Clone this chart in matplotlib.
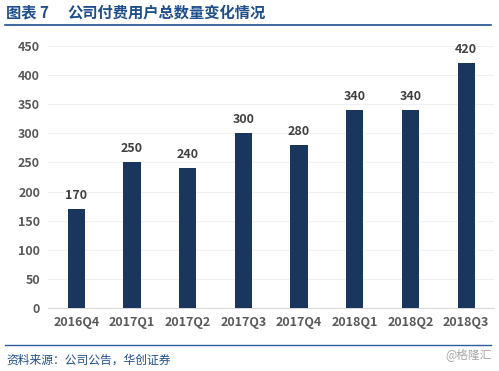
import matplotlib
matplotlib.use("Agg")
import matplotlib.pyplot as plt
from matplotlib.lines import Line2D

plt.rcParams['font.family'] = ['Noto Sans CJK SC', 'DejaVu Sans']

quarters = ['2016Q4', '2017Q1', '2017Q2', '2017Q3', '2017Q4', '2018Q1', '2018Q2', '2018Q3']
users = [170, 250, 240, 300, 280, 340, 340, 420]
y_ticks = [0, 50, 100, 150, 200, 250, 300, 350, 400, 450]

title_head = '图表 7'
title = '公司付费用户总数量变化情况'
source = '资料来源：公司公告，华创证券'
mark = '@格隆汇'

bar_color = '#1b365d'
blue = '#1f4e8c'
grey = '#595959'

fig = plt.figure(figsize=(4.99, 3.71), dpi=100)
ax = fig.add_axes([0.097, 0.170, 0.893, 0.706])

x = range(len(quarters))
bars = ax.bar(x, users, width=0.31, color=bar_color, zorder=3)
for xi, v in zip(x, users):
    ax.text(xi, v + 12, str(v), ha='center', va='bottom', fontsize=9,
            fontweight='bold', color='#404040')

ax.set_xlim(-0.5, len(quarters) - 0.5)
ax.set_ylim(0, 450)
ax.set_yticks(y_ticks)
ax.set_xticks(list(x))
ax.set_xticklabels(quarters)
ax.tick_params(length=0, labelsize=9, labelcolor=grey, pad=6)
for lab in ax.get_xticklabels() + ax.get_yticklabels():
    lab.set_fontweight('bold')
ax.yaxis.grid(True, color='#f0f0f0', linewidth=0.8, zorder=0)
for s in ['top', 'right', 'left']:
    ax.spines[s].set_visible(False)
ax.spines['bottom'].set_color('#d9d9d9')

# title and frame lines
fig.text(0.012, 0.966, title_head, fontsize=11, fontweight='bold', color=blue,
         va='center', ha='left')
fig.text(0.136, 0.966, title, fontsize=11, fontweight='bold', color=blue,
         va='center', ha='left')
fig.add_artist(Line2D([0.01, 0.984], [0.933, 0.933], color=blue, linewidth=1.2))
fig.add_artist(Line2D([0.01, 0.984], [0.07, 0.07], color='#2e5c99', linewidth=1.0))
fig.text(0.012, 0.028, source, fontsize=8.5, style='italic', color=blue,
         va='center', ha='left')
fig.text(0.986, 0.045, mark, fontsize=8.5, color='#a6a6a6', va='center', ha='right')

fig.savefig('out.png', dpi=100)
